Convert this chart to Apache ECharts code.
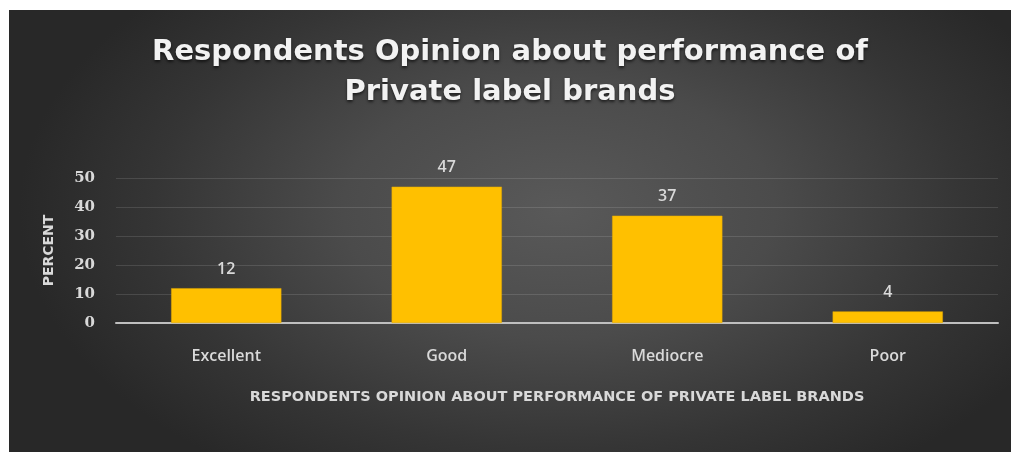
<!DOCTYPE html>
<html>
<head>
<meta charset="utf-8">
<script src="https://cdn.jsdelivr.net/npm/echarts@6/dist/echarts.min.js"></script>
<style>
  html, body { margin: 0; padding: 0; background: #ffffff; }
  #chart {
    position: absolute; left: 9px; top: 10px; width: 1002px; height: 442px;
    background: radial-gradient(ellipse 540px 320px at 550px 200px, #595959 0%, #4b4b4b 40%, #353535 75%, #282828 100%);
  }
</style>
</head>
<body>
<div id="chart"></div>
<script>
const categories = ['Excellent', 'Good', 'Mediocre', 'Poor'];
const percentValues = [12, 47, 37, 4];
const yTicks = [0, 10, 20, 30, 40, 50];

const titleText = 'Respondents Opinion about performance of\nPrivate label brands';
const xAxisTitle = 'RESPONDENTS OPINION ABOUT PERFORMANCE OF PRIVATE LABEL BRANDS';
const yAxisTitle = 'PERCENT';

const chart = echarts.init(document.getElementById('chart'), null, { renderer: 'canvas' });

chart.setOption({
  backgroundColor: 'transparent',
  animation: false,
  title: {
    text: titleText,
    left: 'center',
    top: 17,
    textStyle: {
      color: '#f2f2f2',
      fontFamily: 'DejaVu Sans',
      fontWeight: 'bold',
      fontSize: 29,
      lineHeight: 40,
      textShadowColor: 'rgba(0,0,0,0.6)',
      textShadowBlur: 3,
      textShadowOffsetY: 2
    }
  },
  grid: {
    left: 107,
    right: 13,
    top: 168,
    bottom: 129,
    containLabel: false
  },
  xAxis: {
    type: 'category',
    data: categories,
    name: xAxisTitle,
    nameLocation: 'middle',
    nameGap: 67,
    nameTextStyle: {
      color: '#d9d9d9',
      fontFamily: 'DejaVu Sans',
      fontWeight: 'bold',
      fontSize: 14.5
    },
    axisLine: { show: true, lineStyle: { color: '#bfbfbf', width: 2 } },
    axisTick: { show: false },
    axisLabel: {
      color: '#d9d9d9',
      fontFamily: 'Open Sans',
      fontWeight: 600,
      fontSize: 16,
      margin: 25
    }
  },
  yAxis: {
    type: 'value',
    min: yTicks[0],
    max: yTicks[yTicks.length - 1],
    interval: yTicks[1] - yTicks[0],
    name: yAxisTitle,
    nameLocation: 'middle',
    nameGap: 60,
    nameRotate: 90,
    nameTextStyle: {
      color: '#d9d9d9',
      fontFamily: 'DejaVu Sans',
      fontWeight: 'bold',
      fontSize: 14
    },
    axisLine: { show: false },
    axisTick: { show: false },
    axisLabel: {
      color: '#d9d9d9',
      fontFamily: 'DejaVu Serif',
      fontWeight: 'bold',
      fontSize: 15,
      margin: 21
    },
    splitLine: { lineStyle: { color: 'rgba(255,255,255,0.12)', width: 1 } }
  },
  series: [{
    type: 'bar',
    data: percentValues,
    barWidth: '50%',
    itemStyle: { color: '#ffc000', borderColor: '#e0a800', borderWidth: 0.5 },
    label: {
      show: true,
      position: 'top',
      distance: 11,
      color: '#d9d9d9',
      fontFamily: 'Open Sans',
      fontWeight: 600,
      fontSize: 16
    }
  }]
});
</script>
</body>
</html>
